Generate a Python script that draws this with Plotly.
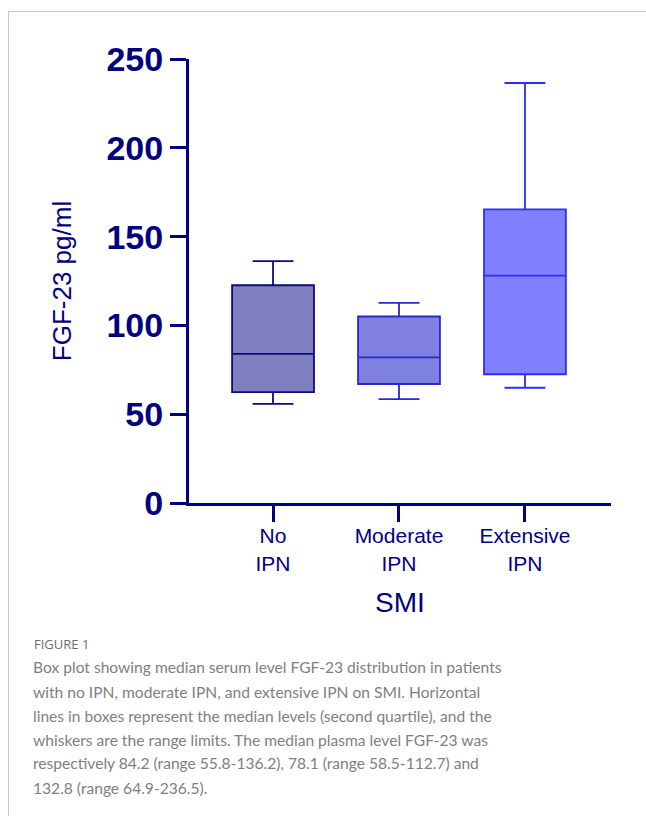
import plotly.graph_objects as go

categories = ["No<br>IPN", "Moderate<br>IPN", "Extensive<br>IPN"]
lower_fence = [55.8, 58.5, 64.9]
q1_vals = [62.4, 67.0, 72.5]
median_vals = [84.0, 82.0, 128.0]
q3_vals = [122.6, 105.0, 165.3]
upper_fence = [136.2, 112.7, 236.5]
y_ticks = [0, 50, 100, 150, 200, 250]

caption_lines = [
    "Box plot showing median serum level FGF-23 distribution in patients",
    "with no IPN, moderate IPN, and extensive IPN on SMI. Horizontal",
    "lines in boxes represent the median levels (second quartile), and the",
    "whiskers are the range limits. The median plasma level FGF-23 was",
    "respectively 84.2 (range 55.8-136.2), 78.1 (range 58.5-112.7) and",
    "132.8 (range 64.9-236.5).",
]

fills = ["rgb(128,128,192)", "rgb(128,128,224)", "rgb(128,128,255)"]
lines = ["rgb(10,10,130)", "rgb(40,40,205)", "rgb(45,45,255)"]

W, H = 646, 816
L, R, T, B = 189, 35, 59, 313
pw, ph = W - L - R, H - T - B

def px(x):
    return (x - L) / pw

def py(y):
    return (H - B - y) / ph

fig = go.Figure()
for i, c in enumerate(categories):
    fig.add_trace(go.Box(
        x=[c], q1=[q1_vals[i]], median=[median_vals[i]], q3=[q3_vals[i]],
        lowerfence=[lower_fence[i]], upperfence=[upper_fence[i]],
        fillcolor=fills[i], line=dict(color=lines[i], width=1.8),
        width=0.65, whiskerwidth=0.5, boxpoints=False, showlegend=False,
        hoverinfo="skip",
    ))

navy = "rgb(0,0,128)"
fig.update_layout(
    width=W, height=H,
    margin=dict(l=L, r=R, t=T, b=B),
    paper_bgcolor="white", plot_bgcolor="white",
    boxmode="overlay",
    xaxis=dict(
        type="category", range=[-0.667, 2.683],
        showline=True, linecolor=navy, linewidth=3,
        ticks="outside", ticklen=16, tickwidth=3, tickcolor=navy,
        ticklabelstandoff=-4,
        tickfont=dict(family="Liberation Sans, Arial", size=21, color=navy),
        showgrid=False, zeroline=False,
        title=dict(text="SMI", font=dict(family="Liberation Sans, Arial", size=28, color=navy), standoff=19),
    ),
    yaxis=dict(
        range=[0, 250], tickvals=y_ticks,
        showline=True, linecolor=navy, linewidth=3,
        ticks="outside", ticklen=16, tickwidth=3, tickcolor=navy,
        tickfont=dict(family="Liberation Sans, Arial", size=34, color=navy, weight="bold"),
        showgrid=False, zeroline=False,
        title=dict(text="FGF-23 pg/ml", font=dict(family="Liberation Sans, Arial", size=26, color=navy), standoff=28),
    ),
    shapes=[
        dict(type="line", xref="paper", yref="paper", x0=px(8), x1=px(700), y0=py(11.5), y1=py(11.5),
             line=dict(color="rgb(200,200,200)", width=1)),
        dict(type="line", xref="paper", yref="paper", x0=px(8.5), x1=px(8.5), y0=py(11), y1=py(830),
             line=dict(color="rgb(200,200,200)", width=1)),
    ],
)

fig.add_annotation(text="FIGURE 1", xref="paper", yref="paper", x=px(32), y=py(644),
                   xanchor="left", yanchor="middle", showarrow=False, align="left",
                   font=dict(family="Open Sans", size=13, color="rgb(110,110,110)"))
line_y = [667, 691.5, 715.5, 739.5, 763.5, 788]
for t, yy in zip(caption_lines, line_y):
    fig.add_annotation(text=t, xref="paper", yref="paper", x=px(31), y=py(yy),
                       xanchor="left", yanchor="middle", showarrow=False, align="left",
                       font=dict(family="Lato", size=15.6, color="rgb(128,128,128)"))

fig.write_html("out.html", config={"displayModeBar": False},
               post_script="document.body.style.margin='0px';")
